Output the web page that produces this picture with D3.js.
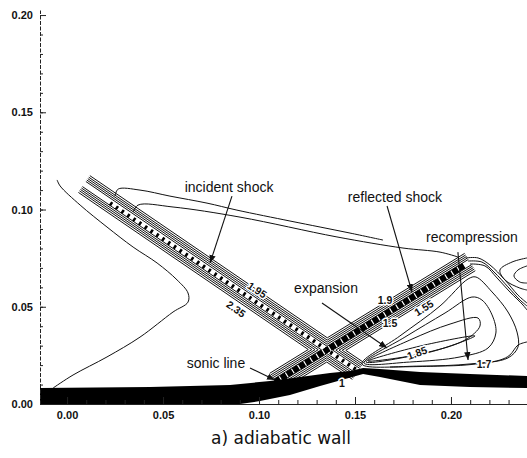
<!DOCTYPE html>
<html>
<head>
<meta charset="utf-8">
<script src="https://cdn.jsdelivr.net/npm/d3@7"></script>
<style>
  body { margin: 0; background: #fff; }
  svg { display: block; }
  .axis text { font-family: Arial, "Liberation Sans", sans-serif; font-weight: bold; font-size: 11px; fill: #111; }
  .axis line, .axis path { stroke: #222; }
  .contour { fill: none; stroke: #111; stroke-width: 1; }
  .note { font-family: Arial, "Liberation Sans", sans-serif; font-size: 14px; fill: #111; }
  .level { font-family: Arial, "Liberation Sans", sans-serif; font-size: 10.5px; font-weight: bold; fill: #111; }
  .halo { paint-order: stroke; stroke: #fff; stroke-width: 3px; stroke-linejoin: round; }
</style>
</head>
<body>
<svg id="chart" width="527" height="458"></svg>
<script>
// axis ticks
var xTicks = [0, 0.05, 0.10, 0.15, 0.20];
var yTicks = [0, 0.05, 0.10, 0.15, 0.20];

// subsonic layer along the wall (black band), top edge then bottom edge
var bandTop = [[-0.0141,0.0082],[0.0432,0.0087],[0.0849,0.0098],[0.1057,0.0118],[0.1214,0.0139],
  [0.1370,0.0159],[0.1474,0.0170],[0.1542,0.0185],[0.1630,0.0180],[0.1839,0.0165],[0.2099,0.0154],[0.2396,0.0144]];
var bandBottom = [[0.2396,0.0082],[0.2099,0.0087],[0.1839,0.0098],[0.1630,0.0139],[0.1542,0.0154],
  [0.1448,0.0129],[0.1318,0.0093],[0.1161,0.0046],[0.1005,0.0015],[0.0901,0],[-0.0141,0]];

// shock geometry (x, y)
var crossing = [0.1354, 0.0278];
var incidentStart = [0.0089, 0.1131];
var incidentFoot = [0.1516, 0.0170];
var reflectedFoot = [0.1083, 0.0113];
var reflectedEnd = [0.2099, 0.0730];
var incidentCoreStart = [0.0224, 0.1033];
var reflectedCoreEnd = [0.2073, 0.0715];
// distance of the iso-lines from the shock core
var shockLevels = [0.0016, 0.0025, 0.0034, 0.0043, 0.0053];

// single iso-lines
var vContour = [[-0.0052,0.1152],[-0.0036,0.1121],[0.0068,0.1023],[0.0208,0.0910],[0.0344,0.0807],
  [0.0469,0.0725],[0.0573,0.0638],[0.0630,0.0571],[0.0630,0.0524],[0.0552,0.0473],[0.0380,0.0344],
  [0.0208,0.0242],[0.0031,0.0149],[-0.0073,0.0082]];
var upperLine = [[0.0250,0.1069],[0.0266,0.1105],[0.0380,0.1100],[0.0536,0.1069],[0.0729,0.1033],
  [0.0885,0.0997],[0.1161,0.0941],[0.1318,0.0910],[0.1474,0.0879],[0.1646,0.0843]];
var lowerLine = [[0.0344,0.0987],[0.0370,0.1023],[0.0552,0.1013],[0.0901,0.0961],[0.1406,0.0859],
  [0.1750,0.0802],[0.1943,0.0781],[0.2036,0.0756]];
var tongue1 = [[0.1536,0.0206],[0.1734,0.0350],[0.1943,0.0504],[0.2089,0.0643],[0.2130,0.0653],[0.2214,0.0576],
  [0.2297,0.0473],[0.2344,0.0370],[0.2349,0.0293],[0.2297,0.0237],[0.2099,0.0206],[0.1839,0.0195]];
var tongue2 = [[0.1547,0.0211],[0.1760,0.0344],[0.1969,0.0468],[0.2109,0.0550],[0.2161,0.0535],[0.2214,0.0458],
  [0.2234,0.0365],[0.2193,0.0288],[0.2047,0.0242],[0.1786,0.0216]];
var tongue3 = [[0.1557,0.0216],[0.1786,0.0329],[0.1995,0.0411],[0.2141,0.0442],[0.2151,0.0401],[0.2073,0.0329],[0.1839,0.0257]];
var tongue4 = [[0.1568,0.0221],[0.1839,0.0298],[0.2125,0.0350],[0.1891,0.0267]];
var line17 = [[0.1682,0.0190],[0.1943,0.0195],[0.2083,0.0201],[0.2255,0.0226],[0.2307,0.0252],[0.2349,0.0303],[0.2396,0.0319]];
var recomp1 = [[0.2078,0.0751],[0.2141,0.0751],[0.2203,0.0715],[0.2281,0.0638],[0.2349,0.0560],[0.2396,0.0519]];
var recomp2 = [[0.2089,0.0735],[0.2161,0.0730],[0.2224,0.0679],[0.2297,0.0602],[0.2359,0.0535],[0.2396,0.0504]];
var recomp3 = [[0.2099,0.0720],[0.2177,0.0710],[0.2240,0.0648],[0.2307,0.0576],[0.2375,0.0509],[0.2396,0.0483]];
var arc1 = [[0.2396,0.0751],[0.2318,0.0730],[0.2255,0.0689],[0.2281,0.0638],[0.2359,0.0596],[0.2396,0.0586]];
var arc2 = [[0.2396,0.0710],[0.2349,0.0689],[0.2328,0.0658],[0.2359,0.0627],[0.2396,0.0622]];

// contour values written on the lines
var levelText = ["1.95", "2.35", "1.9", "1.5", "1.55", "1.85", "1.7", "1"];
var levelX = [0.0990, 0.0880, 0.1656, 0.1682, 0.1859, 0.1823, 0.2172, 0.1432];
var levelY = [0.0586, 0.0488, 0.0535, 0.0416, 0.0494, 0.0262, 0.0206, 0.0108];

// annotations: text anchor, arrow start, arrow end
var noteText = ["incident shock", "reflected shock", "recompression", "expansion", "sonic line"];
var noteAt = [[0.0844,0.1116],[0.1708,0.1064],[0.2109,0.0859],[0.1349,0.0596],[0.0776,0.0211]];
var arrowFrom = [[0.0859,0.1069],[0.1667,0.1018],[0.2036,0.0781],[0.1328,0.0519],[0.0953,0.0185]];
var arrowTo = [[0.0745,0.0725],[0.1797,0.0576],[0.2089,0.0226],[0.1667,0.0288],[0.1083,0.0123]];

var svg = d3.select("#chart");
var x = d3.scaleLinear().domain([-0.0141, 0.2396]).range([40, 527]);
var y = d3.scaleLinear().domain([0, 0.2026]).range([404, 10]);
var toPx = function(p) { return [x(p[0]), y(p[1])]; };

var defs = svg.append("defs");
defs.append("clipPath").attr("id", "plot")
  .append("rect").attr("x", 40).attr("y", 0).attr("width", 487).attr("height", 404);
var marker = defs.append("marker")
  .attr("id", "head").attr("viewBox", "0 0 10 8").attr("refX", 10).attr("refY", 4)
  .attr("markerWidth", 8).attr("markerHeight", 6.5).attr("orient", "auto").attr("markerUnits", "userSpaceOnUse");
marker.append("path").attr("d", "M0,0L10,4L0,8z").attr("fill", "#111");

var g = svg.append("g").attr("clip-path", "url(#plot)");
var straight = d3.line().x(d => x(d[0])).y(d => y(d[1]));
var smooth = d3.line().x(d => x(d[0])).y(d => y(d[1])).curve(d3.curveCatmullRom);
var loopLine = d3.line().x(d => x(d[0])).y(d => y(d[1])).curve(d3.curveCatmullRomClosed);

// iso-lines hugging the two crossing shocks, meeting in chevrons at the crossing
function unit(v) { var l = Math.hypot(v[0], v[1]); return [v[0]/l, v[1]/l]; }
function chevron(a, c, b, d) {
  var ua = unit([a[0]-c[0], a[1]-c[1]]), ub = unit([b[0]-c[0], b[1]-c[1]]);
  var dot = ua[0]*ub[0] + ua[1]*ub[1];
  var na = unit([ub[0]-dot*ua[0], ub[1]-dot*ua[1]]);
  var nb = unit([ua[0]-dot*ub[0], ua[1]-dot*ub[1]]);
  var bis = unit([ua[0]+ub[0], ua[1]+ub[1]]);
  var k = d / Math.sqrt((1 - dot) / 2);
  return [[a[0]+na[0]*d, a[1]+na[1]*d], [c[0]+bis[0]*k, c[1]+bis[1]*k], [b[0]+nb[0]*d, b[1]+nb[1]*d]];
}
var pairs = [[incidentStart, reflectedEnd], [incidentStart, reflectedFoot],
             [reflectedEnd, incidentFoot], [reflectedFoot, incidentFoot]];
pairs.forEach(function(p) {
  shockLevels.forEach(function(lv) {
    var d = x(lv) - x(0);
    g.append("path").attr("class", "contour")
      .attr("d", d3.line()(chevron(toPx(p[0]), toPx(crossing), toPx(p[1]), d)));
  });
});

// shock cores
g.append("path").attr("fill", "none").attr("stroke", "#000").attr("stroke-width", 4)
  .attr("stroke-dasharray", "2.5 4.5")
  .attr("d", straight([incidentCoreStart, crossing, incidentFoot]));
g.append("path").attr("fill", "none").attr("stroke", "#000").attr("stroke-width", 6)
  .attr("stroke-dasharray", "6 1.2")
  .attr("d", straight([reflectedFoot, crossing, reflectedCoreEnd]));

[vContour, upperLine, lowerLine, line17, recomp1, recomp2, recomp3, arc1, arc2].forEach(function(c) {
  g.append("path").attr("class", "contour").attr("d", smooth(c));
});
[tongue1, tongue2, tongue3, tongue4].forEach(function(c) {
  g.append("path").attr("class", "contour").attr("d", loopLine(c));
});

// wall layer
g.append("path").attr("fill", "#000").attr("d", straight(bandTop.concat(bandBottom)) + "Z");

// axes
svg.append("g").attr("class", "axis").attr("transform", "translate(0," + y(0) + ")")
  .call(d3.axisBottom(x).tickValues(xTicks).tickFormat(d3.format(".2f"))
    .tickSizeInner(-7).tickSizeOuter(0).tickPadding(7));
svg.append("g").attr("class", "axis").attr("transform", "translate(0," + y(0) + ")")
  .call(d3.axisBottom(x).tickValues(d3.range(0.01, 0.24, 0.01)).tickFormat("")
    .tickSizeInner(-4).tickSizeOuter(0))
  .select(".domain").remove();
var yAxis = svg.append("g").attr("class", "axis").attr("transform", "translate(40,0)")
  .call(d3.axisLeft(y).tickValues(yTicks).tickFormat(d3.format(".2f"))
    .tickSizeInner(-6).tickSizeOuter(0).tickPadding(7));
yAxis.select(".domain").attr("stroke-dasharray", "4 1.5");
svg.append("g").attr("class", "axis").attr("transform", "translate(40,0)")
  .call(d3.axisLeft(y).tickValues(d3.range(0.01, 0.2, 0.01)).tickFormat("")
    .tickSizeInner(-3).tickSizeOuter(0))
  .select(".domain").remove();

// contour values
var levelAngle = { "1.95": 34, "2.35": 35, "1.55": -32, "1.85": -20 };
levelText.forEach(function(t, i) {
  svg.append("text").attr("class", "level halo")
    .attr("text-anchor", "middle").attr("dy", "0.35em")
    .attr("transform", "translate(" + x(levelX[i]) + "," + y(levelY[i]) + ") rotate(" + (levelAngle[t] || 0) + ")")
    .text(t);
});

// annotations
noteText.forEach(function(t, i) {
  svg.append("line").attr("stroke", "#111").attr("stroke-width", 1.1)
    .attr("x1", x(arrowFrom[i][0])).attr("y1", y(arrowFrom[i][1]))
    .attr("x2", x(arrowTo[i][0])).attr("y2", y(arrowTo[i][1]))
    .attr("marker-end", "url(#head)");
  svg.append("text").attr("class", "note halo").attr("text-anchor", "middle").attr("dy", "0.35em")
    .attr("x", x(noteAt[i][0])).attr("y", y(noteAt[i][1])).text(t);
});

svg.append("text").attr("x", 281).attr("y", 438).attr("dy", "0.35em").attr("text-anchor", "middle")
  .style("font-family", "'DejaVu Sans', sans-serif").style("font-size", "17px").style("fill", "#111")
  .text("a) adiabatic wall");
</script>
</body>
</html>
